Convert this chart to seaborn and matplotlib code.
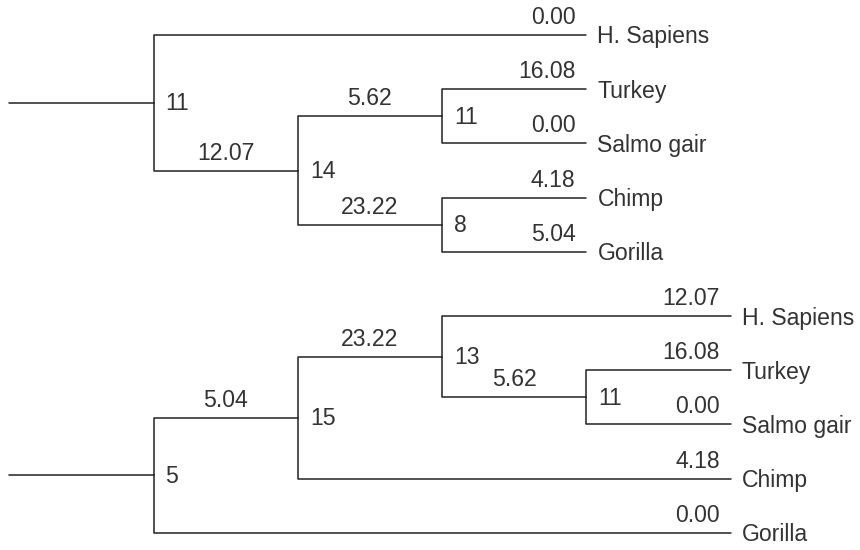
import matplotlib
matplotlib.use("Agg")
import matplotlib.pyplot as plt
import seaborn as sns
import pandas as pd

# ---------------- data ----------------
# top tree
top_parent = ["A", "A", "B", "B", "C", "C", "D", "D"]
top_child = ["H. Sapiens", "B", "C", "D", "Turkey", "Salmo gair", "Chimp", "Gorilla"]
top_edge_labels = ["0.00", "12.07", "5.62", "23.22", "16.08", "0.00", "4.18", "5.04"]
top_internal = ["A", "B", "C", "D"]
top_internal_labels = ["11", "14", "11", "8"]

# bottom tree
bot_parent = ["E", "E", "F", "F", "G", "G", "H", "H"]
bot_child = ["F", "Gorilla", "G", "Chimp", "H. Sapiens", "H", "Turkey", "Salmo gair"]
bot_edge_labels = ["5.04", "0.00", "23.22", "4.18", "12.07", "5.62", "16.08", "0.00"]
bot_internal = ["E", "F", "G", "H"]
bot_internal_labels = ["5", "15", "13", "11"]

# ---------------- style ----------------
sns.set_theme(style="white")
plt.rcParams["font.family"] = ["Liberation Sans", "DejaVu Sans"]
LINE = "#2b2b2b"
TEXT = "#333333"
FS = 16.6

X0 = 153.5      # x of root node
DX = 144.3      # column width
STEP = 54.2     # leaf spacing

fig = plt.figure(figsize=(8.6, 5.5), dpi=100)
ax = fig.add_axes([0, 0, 1, 1])


def layout(parent, child, internal, y_first):
    kids = {}
    for p, c in zip(parent, child):
        kids.setdefault(p, []).append(c)
    root = [n for n in internal if n not in child][0]
    depth = {root: 0}
    order = [root]
    i = 0
    while i < len(order):
        n = order[i]
        for c in kids.get(n, []):
            depth[c] = depth[n] + 1
            order.append(c)
        i += 1
    maxd = max(depth.values())
    pos = {}
    leaf_idx = [0]

    def place(n):
        if n in kids:
            ys = [place(c) for c in kids[n]]
            y = (ys[0] + ys[-1]) / 2
            x = X0 + depth[n] * DX
        else:
            y = y_first + leaf_idx[0] * STEP
            leaf_idx[0] += 1
            x = X0 + maxd * DX
        pos[n] = (x, y)
        return y

    place(root)
    return root, pos


def draw_tree(parent, child, edge_labels, internal, internal_labels, y_first, tag):
    root, pos = layout(parent, child, internal, y_first)
    rows = []
    rx, ry = pos[root]
    rows += [(rx - DX, ry, f"{tag}root"), (rx, ry, f"{tag}root")]
    for p, c in zip(parent, child):
        px, py = pos[p]
        cx, cy = pos[c]
        sid = f"{tag}{p}-{c}"
        rows += [(px, py, sid), (px, cy, sid), (cx, cy, sid)]
    df = pd.DataFrame(rows, columns=["x", "y", "seg"])
    sns.lineplot(data=df, x="x", y="y", units="seg", estimator=None, sort=False,
                 color=LINE, lw=1.15, legend=False, ax=ax)
    internal_set = set(internal)
    for p, c, lab in zip(parent, child, edge_labels):
        px, py = pos[p]
        cx, cy = pos[c]
        if c in internal_set:
            ax.text((px + cx) / 2, cy - 6, lab, ha="center", va="bottom",
                    fontsize=FS, color=TEXT)
        else:
            ax.text(cx - 11, cy - 6, lab, ha="right", va="bottom",
                    fontsize=FS, color=TEXT)
            ax.text(cx + 11, cy + 2, c, ha="left", va="center",
                    fontsize=FS, color=TEXT)
    for n, lab in zip(internal, internal_labels):
        nx, ny = pos[n]
        ax.text(nx + 12, ny + 1, lab, ha="left", va="center",
                fontsize=FS, color=TEXT)


draw_tree(top_parent, top_child, top_edge_labels, top_internal, top_internal_labels, 35.0, "t")
draw_tree(bot_parent, bot_child, bot_edge_labels, bot_internal, bot_internal_labels, 316.0, "b")

ax.set_xlim(0, 860)
ax.set_ylim(550, 0)
ax.axis("off")
fig.savefig("out.png", dpi=100, facecolor="white")
